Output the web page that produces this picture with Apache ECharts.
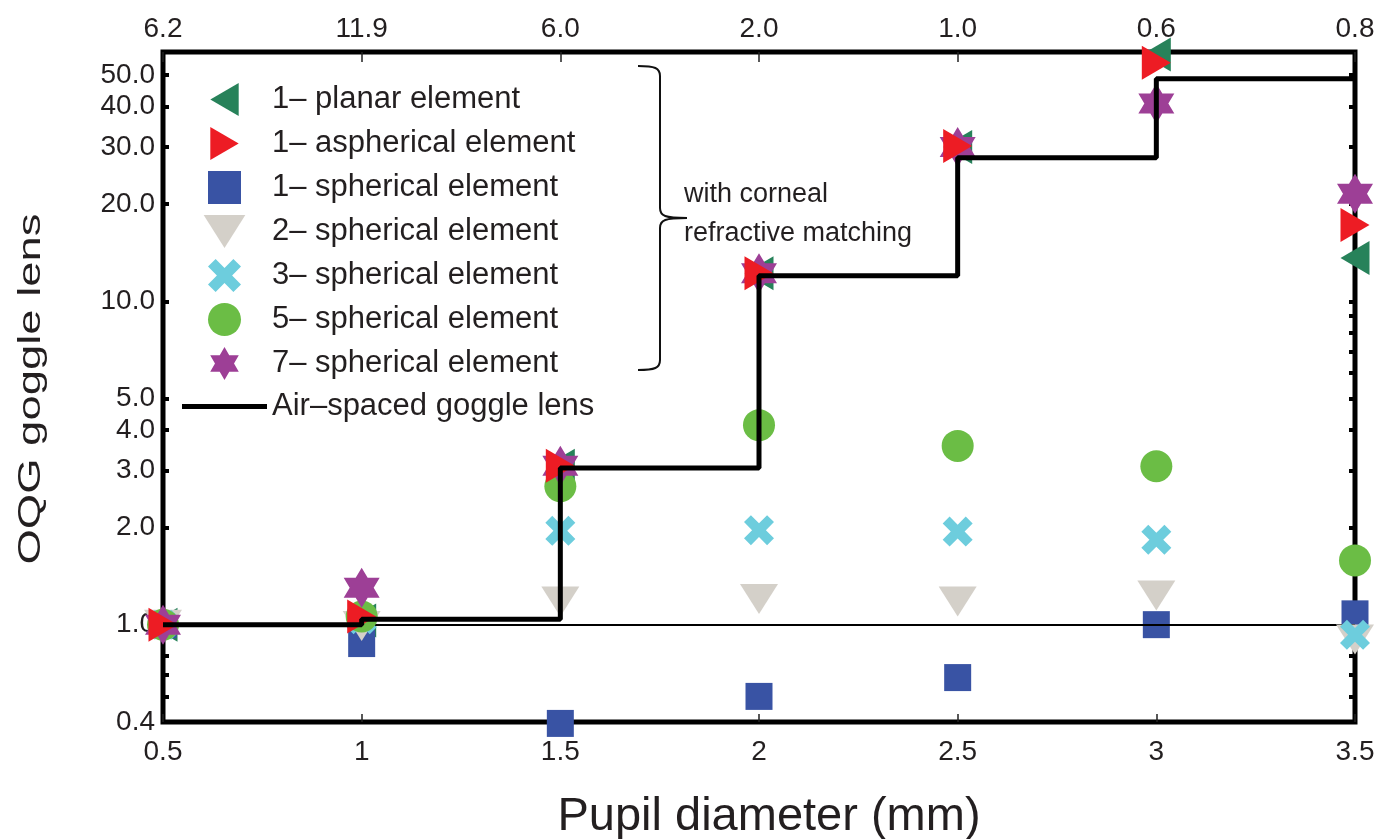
<!DOCTYPE html>
<html><head><meta charset="utf-8">
<script src="https://cdn.jsdelivr.net/npm/echarts@6/dist/echarts.min.js"></script>
<style>html,body{margin:0;padding:0;background:#fff}#c{width:1393px;height:839px}</style>
</head><body><div id="c"></div>
<script>
const pupil = [0.5, 1, 1.5, 2, 2.5, 3, 3.5];
const topLabels = ['6.2', '11.9', '6.0', '2.0', '1.0', '0.6', '0.8'];
const bottomLabels = ['0.5', '1', '1.5', '2', '2.5', '3', '3.5'];
const yTickValues = [0.5, 1, 2, 3, 4, 5, 10, 20, 30, 40, 50];
const yTickLabels = ['0.4', '1.0', '2.0', '3.0', '4.0', '5.0', '10.0', '20.0', '30.0', '40.0', '50.0'];
const yMinorLeft = [0.6, 0.7, 0.8];
const yRightTicks = [0.6, 0.7, 0.8, 2, 3, 4, 5, 6, 7, 8, 9, 10, 20, 30, 40, 50];

const planar1 = [1.0, 1.03, 3.1, 12.2, 30.0, 58, 13.6];
const aspherical1 = [1.0, 1.06, 3.1, 12.2, 30.2, 54.7, 17.2];
const spherical1 = [1.0, 0.874, 0.495, 0.60, 0.686, 1.0, 1.08];
const spherical2 = [1.0, 0.99, 1.18, 1.2, 1.18, 1.23, 0.90];
const spherical3 = [1.0, 1.04, 1.95, 1.96, 1.94, 1.83, 0.93];
const spherical5 = [1.0, 1.06, 2.68, 4.14, 3.57, 3.09, 1.58];
const spherical7 = [1.0, 1.30, 3.1, 12.2, 30.0, 40.9, 21.5];
const airSpaced = [1.0, 1.04, 3.05, 12.0, 27.8, 48.8, 48.8];

const names = ['1\u2013 planar element', '1\u2013 aspherical element', '1\u2013 spherical element',
  '2\u2013 spherical element', '3\u2013 spherical element', '5\u2013 spherical element',
  '7\u2013 spherical element', 'Air\u2013spaced goggle lens'];
const xTitle = 'Pupil diameter (mm)';
const yTitle = 'OQG goggle lens';
const noteLines = ['with corneal', 'refractive matching'];

const FONT = 'Liberation Sans, Arial, Helvetica, sans-serif';
const TXT = '#231f20';
const STAR = 'path://M0,-100 L28.87,-50 L86.6,-50 L57.74,0 L86.6,50 L28.87,50 L0,100 L-28.87,50 L-86.6,50 L-57.74,0 L-86.6,-50 L-28.87,-50 Z';
const XMARK = 'path://M49.5,-91.9 L91.9,-49.5 L42.4,0 L91.9,49.5 L49.5,91.9 L0,42.4 L-49.5,91.9 L-91.9,49.5 L-42.4,0 L-91.9,-49.5 L-49.5,-91.9 L0,-42.4 Z';
const TRI_L = 'path://M0,50 L86,0 L86,100 Z';
const TRI_R = 'path://M0,0 L86,50 L0,100 Z';
const TRI_D = 'path://M0,0 L120,0 L60,95 Z';
const SQUARE = 'path://M0,0 L100,0 L100,100 L0,100 Z';
const CIRCLE = 'circle';
const LINE_ICON = 'path://M0,0 L100,0 L100,6 L0,6 Z';

function pts(arr) { return pupil.map((x, i) => [x, arr[i]]); }
function sc(name, arr, symbol, size, color, z) {
  return { type: 'scatter', name, data: pts(arr), symbol, symbolSize: size, clip: false, z,
    itemStyle: { color, opacity: 1 } };
}
const braceStyle = { stroke: '#111', lineWidth: 2, fill: null };
const icons = [TRI_L, TRI_R, SQUARE, TRI_D, XMARK, CIRCLE, STAR, LINE_ICON];

const chart = echarts.init(document.getElementById('c'));
chart.setOption({
  animation: false,
  backgroundColor: '#fff',
  grid: { left: 163, right: 38, top: 52, bottom: 117, outerBoundsMode: 'none', containLabel: false,
    show: true, borderColor: '#000', borderWidth: 5, backgroundColor: 'transparent' },
  legend: {
    orient: 'vertical', left: 177, top: 78, itemWidth: 85, itemHeight: 33, itemGap: 11,
    data: names.map((n, i) => ({ name: n, icon: icons[i] })), symbolKeepAspect: true,
    textStyle: { fontSize: 31, color: TXT, fontFamily: FONT }
  },
  xAxis: [{
    type: 'value', position: 'bottom', min: 0.5, max: 3.5, interval: 0.5,
    name: xTitle, nameLocation: 'middle', nameGap: 72,
    nameTextStyle: { fontSize: 47, color: TXT, fontFamily: FONT, padding: [0, 0, 0, 20] },
    axisLine: { show: false }, splitLine: { show: false },
    axisTick: { show: true, inside: true, length: 8, lineStyle: { color: '#222', width: 1.5 } },
    axisLabel: { fontSize: 28, color: TXT, fontFamily: FONT, margin: 16,
      formatter: v => { const i = pupil.indexOf(v); return i >= 0 ? bottomLabels[i] : ''; } }
  }, {
    type: 'value', position: 'top', min: 0.5, max: 3.5, interval: 0.5,
    axisLine: { show: false }, splitLine: { show: false },
    axisTick: { show: true, inside: true, length: 10, lineStyle: { color: '#222', width: 1.5 } },
    axisLabel: { fontSize: 28, color: TXT, fontFamily: FONT, margin: 9,
      formatter: v => { const i = pupil.indexOf(v); return i >= 0 ? topLabels[i] : ''; } }
  }],
  yAxis: [{
    type: 'log', logBase: 10, min: 0.5, max: 59, position: 'left',
    axisLine: { show: false }, splitLine: { show: false },
    axisTick: { show: true, inside: true, length: 6, customValues: yTickValues.concat(yMinorLeft), lineStyle: { color: '#000', width: 4 } },
    axisLabel: { fontSize: 28, color: TXT, fontFamily: FONT, margin: 8, customValues: yTickValues,
      formatter: v => { let best = 0, d = 1e9; yTickValues.forEach((t, i) => { const e = Math.abs(t - v); if (e < d) { d = e; best = i; } }); return yTickLabels[best]; } }
  }, {
    type: 'log', logBase: 10, min: 0.5, max: 59, position: 'right',
    axisLine: { show: false }, splitLine: { show: false },
    axisTick: { show: true, inside: true, length: 6, customValues: yRightTicks, lineStyle: { color: '#000', width: 4 } },
    axisLabel: { show: false }
  }],
  series: [
    sc(names[0], planar1, TRI_L, [29, 34], '#27825a', 3),
    sc(names[1], aspherical1, TRI_R, [29, 34], '#ed1c24', 9),
    sc(names[2], spherical1, SQUARE, [27, 27], '#3953a4', 4),
    sc(names[3], spherical2, TRI_D, [38, 30], '#d4d0c9', 5),
    sc(names[4], spherical3, XMARK, [30, 30], '#6dcddd', 6),
    sc(names[5], spherical5, CIRCLE, [32, 32], '#6bbd45', 7),
    sc(names[6], spherical7, STAR, [36, 40], '#9d3f96', 8),
    {
      type: 'line', name: names[7], data: pts(airSpaced), step: 'end', symbol: 'none', z: 10,
      lineStyle: { color: '#000', width: 5 }, itemStyle: { color: '#000' },
      markLine: { silent: true, symbol: 'none', label: { show: false },
        lineStyle: { color: '#000', width: 2, type: 'solid' }, data: [{ yAxis: 1 }] }
    }
  ],
  graphic: [
    { type: 'bezierCurve', z: 20, shape: { x1: 638, y1: 66, x2: 660, y2: 76, cpx1: 655, cpy1: 66, cpx2: 660, cpy2: 68 }, style: braceStyle },
    { type: 'line', z: 20, shape: { x1: 660, y1: 76, x2: 660, y2: 208 }, style: braceStyle },
    { type: 'bezierCurve', z: 20, shape: { x1: 660, y1: 208, x2: 687, y2: 218, cpx1: 660, cpy1: 216, cpx2: 665, cpy2: 218 }, style: braceStyle },
    { type: 'bezierCurve', z: 20, shape: { x1: 687, y1: 218, x2: 660, y2: 228, cpx1: 665, cpy1: 218, cpx2: 660, cpy2: 220 }, style: braceStyle },
    { type: 'line', z: 20, shape: { x1: 660, y1: 228, x2: 660, y2: 360 }, style: braceStyle },
    { type: 'bezierCurve', z: 20, shape: { x1: 660, y1: 360, x2: 638, y2: 370, cpx1: 660, cpy1: 368, cpx2: 655, cpy2: 370 }, style: braceStyle },
    { type: 'text', z: 20, left: 684, top: 181, style: { text: noteLines[0], font: '27px ' + FONT, fill: TXT } },
    { type: 'text', z: 20, left: 684, top: 220, style: { text: noteLines[1], font: '27px ' + FONT, fill: TXT } },
    { type: 'text', z: 20, x: 31, y: 389, rotation: Math.PI / 2, scaleX: 1.42, scaleY: 1,
      style: { text: yTitle, font: '32px ' + FONT, fill: TXT, align: 'center', verticalAlign: 'middle' } }
  ]
});
</script></body></html>
